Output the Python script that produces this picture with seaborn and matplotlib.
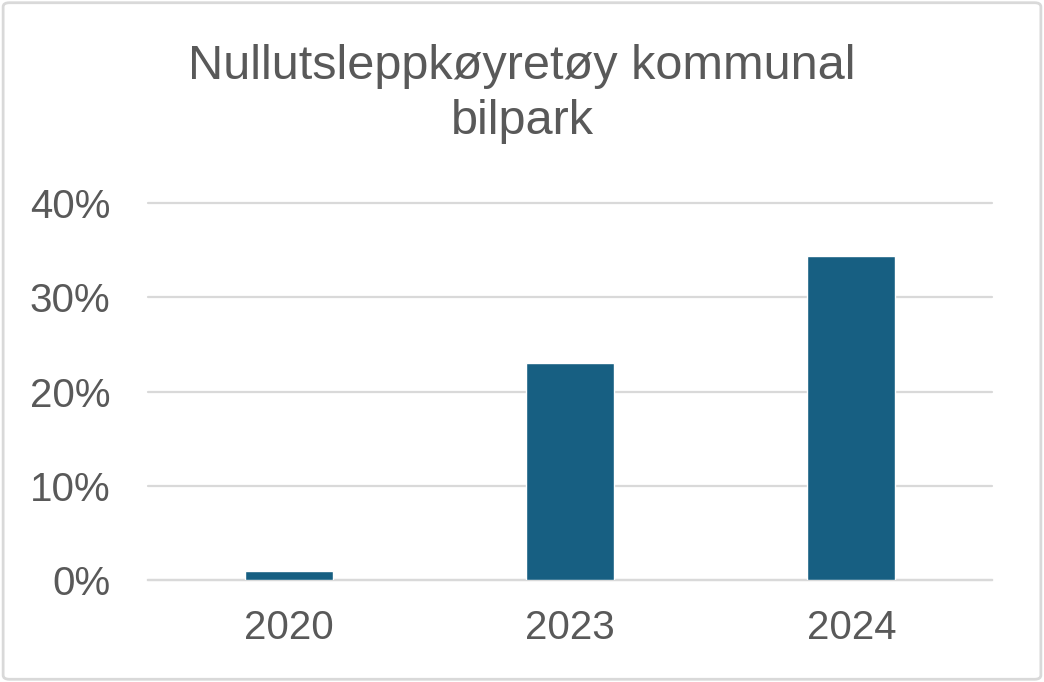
import numpy as np
import pandas as pd
import matplotlib
matplotlib.use('Agg')
import matplotlib.pyplot as plt
import seaborn as sns
from matplotlib.patches import FancyBboxPatch
from matplotlib.ticker import PercentFormatter

years = ['2020', '2023', '2024']
share = [0.01, 0.23, 0.344]
title = 'Nullutsleppkøyretøy kommunal\nbilpark'

sns.set_theme(style='white')
plt.rcParams['font.family'] = ['Liberation Sans', 'DejaVu Sans']

bar_color = '#175F82'
text_color = '#595959'
grid_color = '#D9D9D9'

df = pd.DataFrame({'year': years, 'share': share})

fig = plt.figure(figsize=(10.44, 6.82), dpi=100)
ax = fig.add_axes([0.1418, 0.1496, 0.8084, 0.5527])

sns.barplot(data=df, x='year', y='share', color=bar_color, width=0.313,
            saturation=1, ax=ax, zorder=3)

ax.set_ylim(0, 0.4)
ax.set_yticks([0, 0.1, 0.2, 0.3, 0.4])
ax.yaxis.set_major_formatter(PercentFormatter(1.0, decimals=0))
ax.set_xlabel('')
ax.set_ylabel('')
ax.grid(axis='y', color=grid_color, linewidth=1.6, zorder=0)
ax.set_axisbelow(True)
for line in ax.get_ygridlines():
    line.set_clip_on(False)
for side in ['top', 'right', 'left']:
    ax.spines[side].set_visible(False)
ax.spines['bottom'].set_color(grid_color)
ax.spines['bottom'].set_linewidth(1.6)
ax.tick_params(axis='y', length=0, pad=27, labelsize=29, labelcolor=text_color)
ax.tick_params(axis='x', length=0, pad=21, labelsize=29, labelcolor=text_color)

fig.text(0.5, 0.862, title, ha='center', va='center', fontsize=35,
         color=text_color, linespacing=1.3)

border = FancyBboxPatch((0.003, 0.004), 0.994, 0.992,
                        boxstyle='round,pad=0,rounding_size=0.006',
                        transform=fig.transFigure, facecolor='none',
                        edgecolor=grid_color, linewidth=2)
fig.patches.append(border)

fig.savefig('out.png', dpi=100)
